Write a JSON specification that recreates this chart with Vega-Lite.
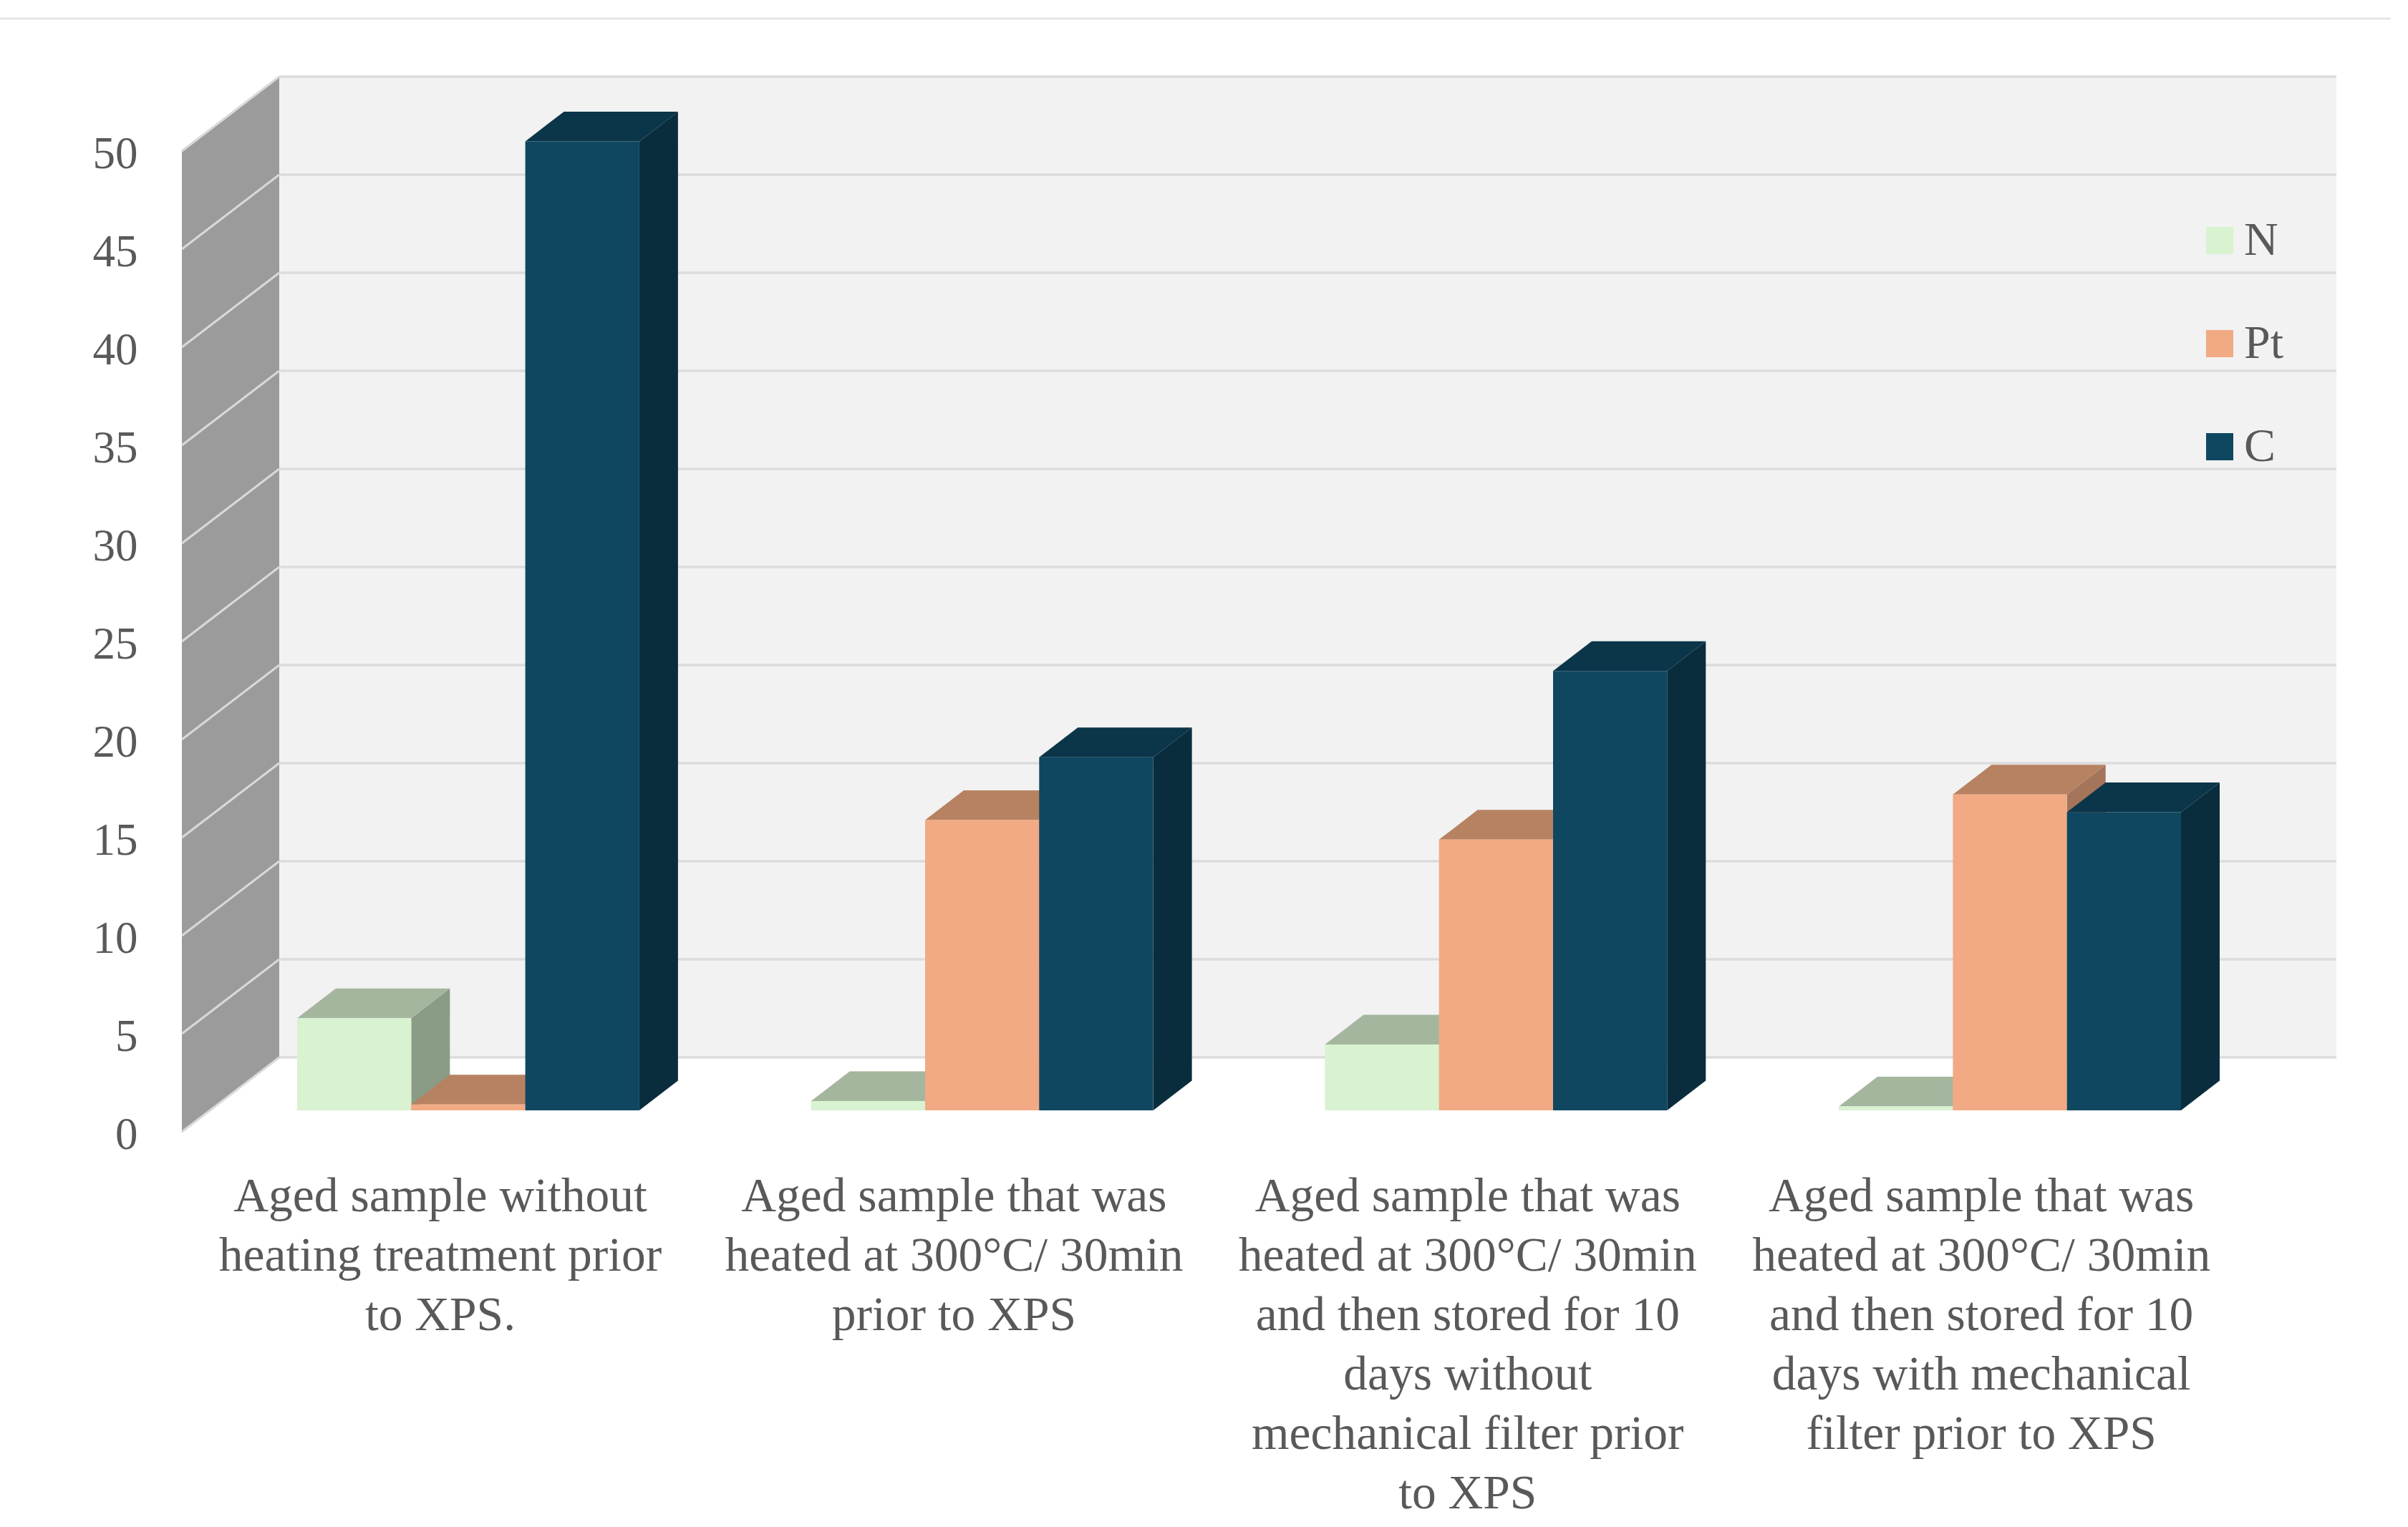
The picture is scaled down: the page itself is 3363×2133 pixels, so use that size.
{
"$schema":"https://vega.github.io/schema/vega-lite/v6.json",
"width":3171,"height":2133,"padding":{"left":192,"top":0,"right":0,"bottom":0},"autosize":"none","background":"#ffffff",
"config":{"view":{"stroke":null}},
"datasets":{
"bars":[
{"group":1,"series":"N","value":4.7},{"group":1,"series":"Pt","value":0.3},{"group":1,"series":"C","value":49.4},
{"group":2,"series":"N","value":0.47},{"group":2,"series":"Pt","value":14.8},{"group":2,"series":"C","value":18.0},
{"group":3,"series":"N","value":3.36},{"group":3,"series":"Pt","value":13.8},{"group":3,"series":"C","value":22.4},
{"group":4,"series":"N","value":0.2},{"group":4,"series":"Pt","value":16.1},{"group":4,"series":"C","value":15.2}],
"groups":[
{"group":1,"label":"Aged sample without\nheating treatment prior\nto XPS."},
{"group":2,"label":"Aged sample that was\nheated at 300°C/ 30min\nprior to XPS"},
{"group":3,"label":"Aged sample that was\nheated at 300°C/ 30min\nand then stored for 10\ndays without\nmechanical filter prior\nto XPS"},
{"group":4,"label":"Aged sample that was\nheated at 300°C/ 30min\nand then stored for 10\ndays with mechanical\nfilter prior to XPS"}],
"ticks":[{"v":0},{"v":5},{"v":10},{"v":15},{"v":20},{"v":25},{"v":30},{"v":35},{"v":40},{"v":45},{"v":50}],
"wall":[{"vmin":0,"vmax":50}]
},
"resolve":{"scale":{"color":"independent"},"axis":{"y":"independent"}},
"layer":[
{"data":{"values":[{"a":1}]},"mark":{"type":"rule","color":"#e6e6e6","strokeWidth":3},
 "encoding":{"x":{"datum":0,"type":"quantitative","scale":{"domain":[192,3363],"nice":false,"zero":false},"axis":null},"x2":{"datum":3339},
 "y":{"datum":56.75,"type":"quantitative","scale":{"domain":[-20.146,57.7],"nice":false,"zero":false},"axis":{"values":[0,5,10,15,20,25,30,35,40,45,50],"grid":false,"domain":false,"ticks":false,"labelPadding":0,"labelOffset":5,"title":null,"labelFont":"Liberation Serif","labelFontSize":63,"labelColor":"#595959"}}}},
{"data":{"name":"wall"},"transform":[{"calculate":"[254,390]","as":"xs"},{"calculate":"[datum.vmin,datum.vmin+3.796]","as":"lo"},{"calculate":"[datum.vmax,datum.vmax+3.796]","as":"hi"},{"flatten":["xs","lo","hi"]}],
 "mark":{"type":"area","color":"#9b9b9b"},
 "encoding":{"x":{"field":"xs","type":"quantitative","scale":{"domain":[192,3363],"nice":false,"zero":false},"axis":null},
 "y":{"field":"hi","type":"quantitative","scale":{"domain":[-20.146,57.7],"nice":false,"zero":false},"axis":null},"y2":{"field":"lo"}}},
{"data":{"name":"wall"},"transform":[{"calculate":"datum.vmin+3.796","as":"lo"},{"calculate":"datum.vmax+3.796","as":"hi"},{"calculate":"390","as":"xa"},{"calculate":"3263","as":"xb"}],
 "mark":{"type":"rect","color":"#f2f2f2"},
 "encoding":{"x":{"field":"xa","type":"quantitative","scale":{"domain":[192,3363],"nice":false,"zero":false},"axis":null},"x2":{"field":"xb"},
 "y":{"field":"hi","type":"quantitative","scale":{"domain":[-20.146,57.7],"nice":false,"zero":false},"axis":null},"y2":{"field":"lo"}}},
{"data":{"name":"ticks"},"transform":[{"calculate":"datum.v+3.796","as":"yb"},{"calculate":"390","as":"xa"},{"calculate":"3263","as":"xb"}],
 "mark":{"type":"rule","color":"#dcdcdc","strokeWidth":3.5},
 "encoding":{"x":{"field":"xa","type":"quantitative","scale":{"domain":[192,3363],"nice":false,"zero":false},"axis":null},"x2":{"field":"xb"},
 "y":{"field":"yb","type":"quantitative","scale":{"domain":[-20.146,57.7],"nice":false,"zero":false},"axis":null}}},
{"data":{"name":"ticks"},"transform":[{"calculate":"[254,390]","as":"xs"},{"calculate":"[datum.v,datum.v+3.796]","as":"ys"},{"flatten":["xs","ys"]}],
 "mark":{"type":"line","color":"#d9d9d9","strokeWidth":3},
 "encoding":{"x":{"field":"xs","type":"quantitative","scale":{"domain":[192,3363],"nice":false,"zero":false},"axis":null},
 "y":{"field":"ys","type":"quantitative","scale":{"domain":[-20.146,57.7],"nice":false,"zero":false},"axis":null},"detail":{"field":"v"}}},
{"data":{"name":"bars"},"transform":[
 {"calculate":"415+717.7*(datum.group-1)+159.3*indexof(['N','Pt','C'],datum.series)","as":"x0"},
 {"calculate":"datum.x0+159.3","as":"x1"},{"calculate":"datum.value+1.095","as":"top"},
 {"calculate":"[datum.x1,datum.x1+54]","as":"xs"},{"calculate":"[1.095,2.61]","as":"lo"},{"calculate":"[datum.top,datum.top+1.515]","as":"hi"},{"flatten":["xs","lo","hi"]},
 {"calculate":"datum.group+datum.series","as":"id"}],
 "mark":{"type":"area"},
 "encoding":{"x":{"field":"xs","type":"quantitative","scale":{"domain":[192,3363],"nice":false,"zero":false},"axis":null},
 "y":{"field":"hi","type":"quantitative","scale":{"domain":[-20.146,57.7],"nice":false,"zero":false},"axis":null},"y2":{"field":"lo"},"detail":{"field":"id"},
 "color":{"field":"series","type":"nominal","legend":null,"scale":{"domain":["N","Pt","C"],"range":["#8a9c85","#a4755a","#0a2d3e"]}}}},
{"data":{"name":"bars"},"transform":[
 {"calculate":"415+717.7*(datum.group-1)+159.3*indexof(['N','Pt','C'],datum.series)","as":"x0"},
 {"calculate":"datum.x0+159.3","as":"x1"},{"calculate":"datum.value+1.095","as":"top"},
 {"calculate":"[datum.x0,datum.x0+54,datum.x1,datum.x1+54]","as":"xs"},{"calculate":"[datum.top,datum.top,datum.top,datum.top+1.515]","as":"lo"},{"calculate":"[datum.top,datum.top+1.515,datum.top+1.515,datum.top+1.515]","as":"hi"},{"flatten":["xs","lo","hi"]},
 {"calculate":"datum.group+datum.series","as":"id"}],
 "mark":{"type":"area"},
 "encoding":{"x":{"field":"xs","type":"quantitative","scale":{"domain":[192,3363],"nice":false,"zero":false},"axis":null},
 "y":{"field":"hi","type":"quantitative","scale":{"domain":[-20.146,57.7],"nice":false,"zero":false},"axis":null},"y2":{"field":"lo"},"detail":{"field":"id"},
 "color":{"field":"series","type":"nominal","legend":null,"scale":{"domain":["N","Pt","C"],"range":["#a5b69e","#b78261","#0b3549"]}}}},
{"data":{"name":"bars"},"transform":[
 {"calculate":"415+717.7*(datum.group-1)+159.3*indexof(['N','Pt','C'],datum.series)","as":"x0"},
 {"calculate":"datum.x0+159.3","as":"x1"},{"calculate":"datum.value+1.095","as":"top"},{"calculate":"1.095","as":"base"}],
 "mark":{"type":"rect"},
 "encoding":{"x":{"field":"x0","type":"quantitative","scale":{"domain":[192,3363],"nice":false,"zero":false},"axis":null},"x2":{"field":"x1"},
 "y":{"field":"top","type":"quantitative","scale":{"domain":[-20.146,57.7],"nice":false,"zero":false},"axis":null},"y2":{"field":"base"},
 "color":{"field":"series","type":"nominal","scale":{"domain":["N","Pt","C"],"range":["#d9f2d0","#f2aa84","#0f4761"]},
 "legend":{"title":null,"orient":"none","legendX":2875,"legendY":303,"symbolType":"square","symbolSize":1444,"symbolStrokeWidth":0,"labelFont":"Liberation Serif","labelFontSize":66,"labelColor":"#595959","rowPadding":78,"labelOffset":1,"symbolOpacity":1}}}},
{"data":{"name":"groups"},"transform":[{"calculate":"615+717.4*(datum.group-1)","as":"xc"},{"calculate":"-4.05","as":"yt"}],
 "mark":{"type":"text","font":"Liberation Serif","fontSize":67.5,"color":"#595959","lineBreak":"\n","lineHeight":83,"align":"center","baseline":"alphabetic"},
 "encoding":{"x":{"field":"xc","type":"quantitative","scale":{"domain":[192,3363],"nice":false,"zero":false},"axis":null},
 "y":{"field":"yt","type":"quantitative","scale":{"domain":[-20.146,57.7],"nice":false,"zero":false},"axis":null},"text":{"field":"label"}}}
]
}
